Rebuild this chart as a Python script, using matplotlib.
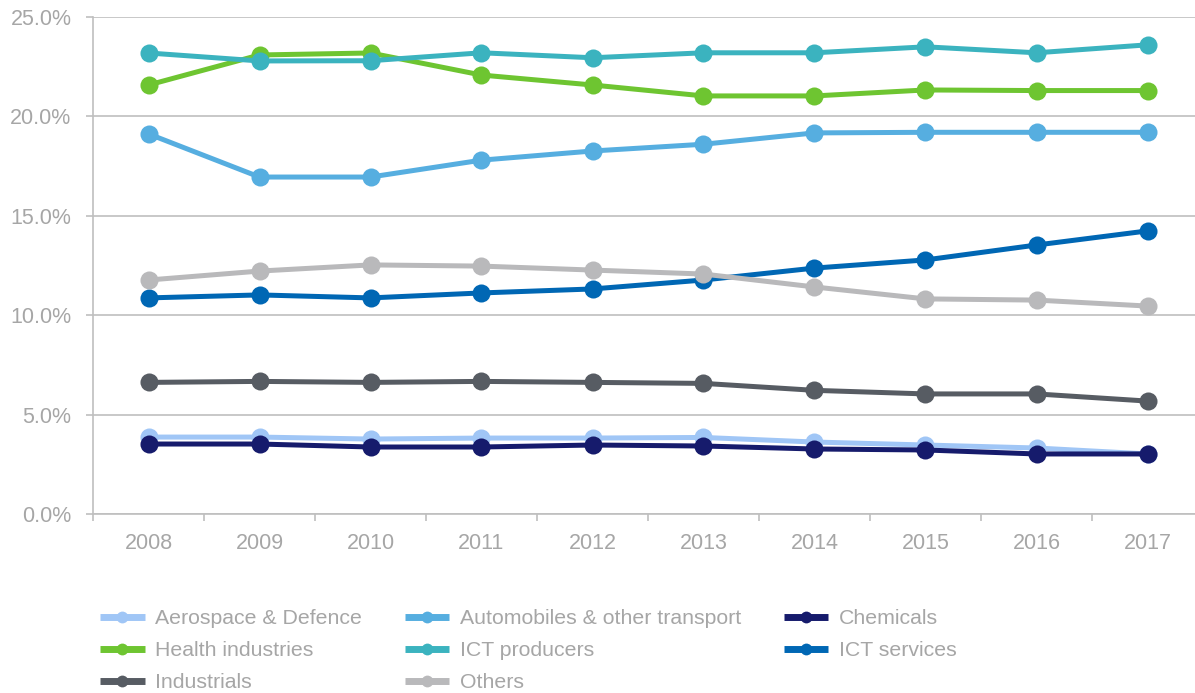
import matplotlib
matplotlib.use("Agg")
import matplotlib.pyplot as plt
from matplotlib.ticker import FuncFormatter, FixedLocator

years = ["2008", "2009", "2010", "2011", "2012", "2013", "2014", "2015", "2016", "2017"]

aerospace = [3.87, 3.87, 3.77, 3.82, 3.82, 3.85, 3.62, 3.47, 3.32, 3.02]
automobiles = [19.12, 16.95, 16.95, 17.80, 18.26, 18.60, 19.17, 19.20, 19.20, 19.20]
chemicals = [3.52, 3.52, 3.37, 3.37, 3.47, 3.42, 3.27, 3.22, 3.02, 3.02]
health = [21.58, 23.09, 23.19, 22.08, 21.58, 21.03, 21.03, 21.33, 21.30, 21.30]
ict_producers = [23.19, 22.79, 22.80, 23.20, 22.95, 23.20, 23.20, 23.50, 23.20, 23.60]
ict_services = [10.87, 11.02, 10.87, 11.12, 11.32, 11.77, 12.37, 12.78, 13.53, 14.24]
industrials = [6.62, 6.67, 6.62, 6.67, 6.62, 6.57, 6.22, 6.04, 6.04, 5.68]
others = [11.77, 12.22, 12.53, 12.47, 12.27, 12.07, 11.42, 10.82, 10.76, 10.46]

series_names = ["Aerospace & Defence", "Automobiles & other transport", "Chemicals",
                "Health industries", "ICT producers", "ICT services", "Industrials", "Others"]
series_values = [aerospace, automobiles, chemicals, health, ict_producers,
                 ict_services, industrials, others]
colors = ["#A0C6F6", "#56AEE0", "#161B6C", "#6EC531", "#3BB3BF", "#0067B4", "#575C63", "#B9B9BB"]

y_ticks = [0, 5, 10, 15, 20, 25]

plt.rcParams['font.family'] = ['Liberation Sans', 'DejaVu Sans']
text_color = "#A6A6A6"
axis_color = "#BFBFBF"

W, H = 1195, 693
fig = plt.figure(figsize=(W / 100, H / 100), dpi=100)
left_px, right_px = 93, 1203
bottom_px, top_px = 514, 17
ax = fig.add_axes([left_px / W, 1 - bottom_px / H, (right_px - left_px) / W, (bottom_px - top_px) / H])

x = list(range(len(years)))
handles = []
for name, vals, c in zip(series_names, series_values, colors):
    ln, = ax.plot(x, vals, color=c, lw=3.6, marker='o', markersize=13,
                  markeredgewidth=0, solid_joinstyle='round', clip_on=False, label=name)
    handles.append(ln)

ax.set_xlim(-0.5, len(years) - 0.5)
ax.set_ylim(0, 25)
ax.yaxis.set_major_locator(FixedLocator(y_ticks))
ax.yaxis.set_major_formatter(FuncFormatter(lambda v, p: f"{v:.1f}%"))
ax.set_xticks(x)
ax.set_xticklabels(years)
ax.set_xticks([i - 0.5 for i in range(len(years) + 1)], minor=True)

ax.grid(axis='y', color=axis_color, lw=1.2, zorder=0)
ax.set_axisbelow(True)
for s in ['top', 'right']:
    ax.spines[s].set_visible(False)
for s in ['left', 'bottom']:
    ax.spines[s].set_color(axis_color)
    ax.spines[s].set_linewidth(1.2)

ax.tick_params(axis='x', which='major', length=0, pad=14, labelsize=15.5, labelcolor=text_color)
ax.tick_params(axis='x', which='minor', length=5, width=1.2, color=axis_color)
ax.tick_params(axis='y', which='major', length=5, width=1.2, color=axis_color,
               pad=10.5, labelsize=15.5, labelcolor=text_color)

order = [0, 3, 6, 1, 4, 7, 2, 5]
leg = fig.legend([handles[i] for i in order], [series_names[i] for i in order],
                 ncol=3, loc='upper left', bbox_to_anchor=(100 / W, 1 - 609 / H),
                 frameon=False, fontsize=15.3, handlelength=2.1, handletextpad=0.5,
                 columnspacing=2.0, labelspacing=0.62, borderaxespad=0, borderpad=0)
for h in leg.legend_handles:
    h.set_markersize(8.5)
    h.set_linewidth(5)
    h.set_solid_capstyle('butt')
for t in leg.get_texts():
    t.set_color(text_color)

fig.savefig("out.png", dpi=100)
